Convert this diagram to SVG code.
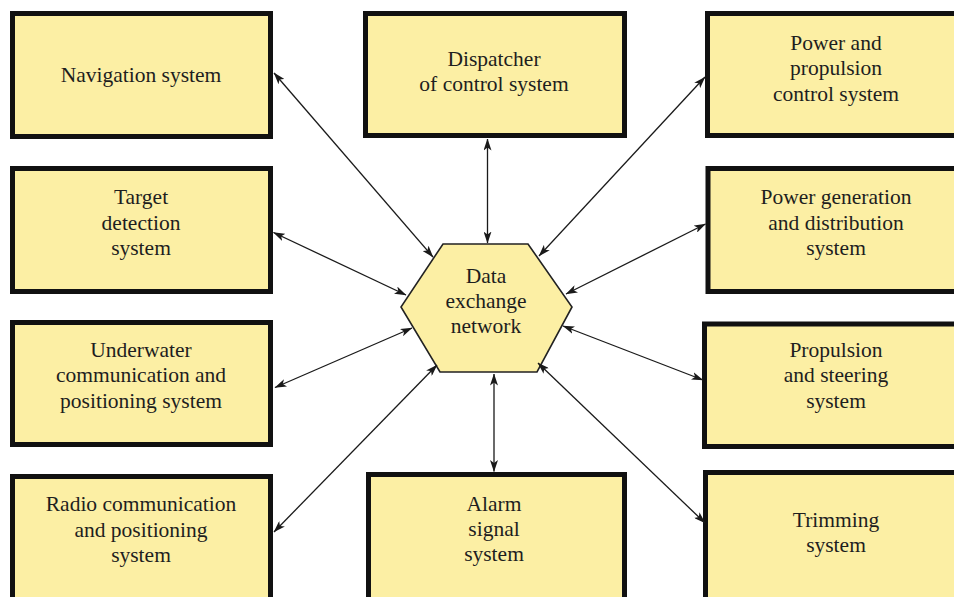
<svg xmlns="http://www.w3.org/2000/svg" width="954" height="597" viewBox="0 0 954 597">
<defs>
<style>
.box{fill:#fcefa4;stroke:#111;stroke-width:5}
.hex{fill:#fcefa4;stroke:#222;stroke-width:1.6}
text{font-family:"Liberation Serif","Times New Roman",serif;font-size:21.5px;fill:#1e1e1e;text-anchor:middle}
.c line{stroke:#1a1a1a;stroke-width:1.3;marker-start:url(#ah);marker-end:url(#ah)}
</style>
<marker id="ah" viewBox="0 0 12 8" refX="11.5" refY="4" markerWidth="12" markerHeight="8" markerUnits="userSpaceOnUse" orient="auto-start-reverse">
<path d="M0,0 L12,4 L0,8 L3,4 Z" fill="#1a1a1a"/>
</marker>
</defs>
<rect width="954" height="597" fill="#fff"/>

<g id="nav"><rect class="box" x="12.5" y="13.5" width="258" height="123"/><text x="141" y="82">Navigation system</text></g>
<g id="target"><rect class="box" x="12.5" y="168.5" width="258" height="123"/><text x="141" y="204">Target</text><text x="141" y="230">detection</text><text x="141" y="255">system</text></g>
<g id="underwater"><rect class="box" x="12.5" y="322.5" width="258" height="122"/><text x="141" y="357">Underwater</text><text x="141" y="382">communication and</text><text x="141" y="408">positioning system</text></g>
<g id="radio"><rect class="box" x="12.5" y="476.5" width="258" height="140"/><text x="141" y="511">Radio communication</text><text x="141" y="537">and positioning</text><text x="141" y="562">system</text></g>

<g id="dispatcher"><rect class="box" x="365.5" y="13.5" width="259" height="122"/><text x="494" y="66">Dispatcher</text><text x="494" y="91">of control system</text></g>
<g id="alarm"><rect class="box" x="368.5" y="474.5" width="256" height="140"/><text x="494" y="511">Alarm</text><text x="494" y="536">signal</text><text x="494" y="561">system</text></g>

<g id="ppc"><rect class="box" x="707.5" y="13.5" width="257" height="122"/><text x="836" y="50">Power and</text><text x="836" y="75">propulsion</text><text x="836" y="101">control system</text></g>
<g id="pgd"><rect class="box" x="708" y="168.5" width="257" height="123"/><text x="836" y="204">Power generation</text><text x="836" y="230">and distribution</text><text x="836" y="255">system</text></g>
<g id="pns"><rect class="box" x="704.5" y="324" width="260" height="122.5"/><text x="836" y="357">Propulsion</text><text x="836" y="382">and steering</text><text x="836" y="408">system</text></g>
<g id="trim"><rect class="box" x="705.5" y="472.5" width="259" height="140"/><text x="836" y="527">Trimming</text><text x="836" y="552">system</text></g>

<g id="hub"><polygon class="hex" points="443,244 528,244 572,307 537,372 440,372 401,307"/><text x="486" y="283">Data</text><text x="486" y="308">exchange</text><text x="486" y="333">network</text></g>

<g class="c" id="connectors">
<line x1="433" y1="257" x2="274" y2="73"/>
<line x1="406" y1="295" x2="273.5" y2="232.5"/>
<line x1="412" y1="328" x2="275" y2="387.5"/>
<line x1="437" y1="365" x2="274" y2="532"/>
<line x1="487.5" y1="243" x2="487.5" y2="139"/>
<line x1="494" y1="374" x2="494" y2="471.5"/>
<line x1="539" y1="256" x2="705" y2="77"/>
<line x1="566" y1="294" x2="705.5" y2="224"/>
<line x1="563" y1="326" x2="703" y2="380"/>
<line x1="538" y1="363" x2="705" y2="523"/>
</g>
</svg>
